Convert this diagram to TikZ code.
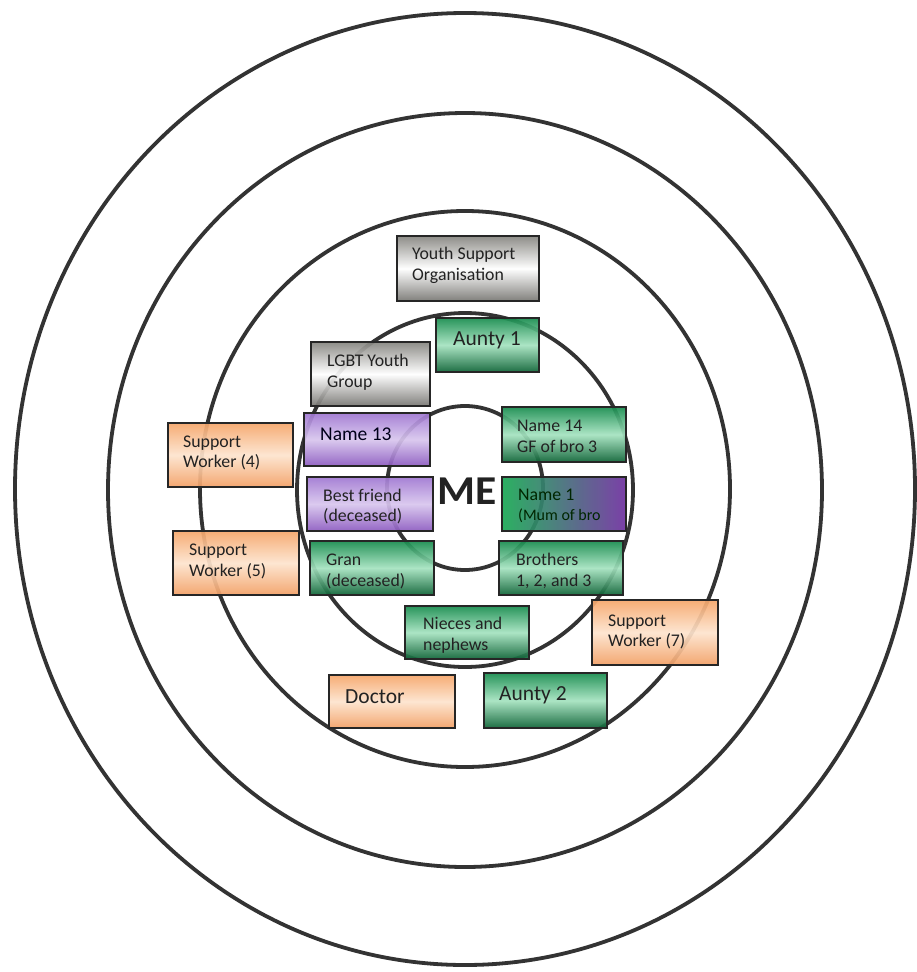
\documentclass[tikz,border=0pt]{standalone}
\usepackage{fontspec}
\setmainfont{Carlito}
\definecolor{ringgray}{HTML}{333333}
\definecolor{ink}{HTML}{222222}
\definecolor{gTop}{HTML}{178C4E}
\definecolor{gMid}{HTML}{A5E3C0}
\definecolor{gBot}{HTML}{0B6234}
\definecolor{pTop}{HTML}{A077D2}
\definecolor{pMid}{HTML}{D8C6EE}
\definecolor{pBot}{HTML}{8C5AC0}
\definecolor{oTop}{HTML}{F6A66A}
\definecolor{oMid}{HTML}{FDE4CE}
\definecolor{oBot}{HTML}{F3A065}
\definecolor{sTop}{HTML}{85847F}
\definecolor{sMid}{HTML}{FFFFFF}
\definecolor{sBot}{HTML}{767571}
\definecolor{mixG}{HTML}{1AAA55}
\definecolor{mixP}{HTML}{7030A0}
\tikzset{
  ring/.style={draw=ringgray, line width=3.8pt},
  card/.style={rectangle, draw=black!85, line width=1.6pt, inner sep=0pt, fill opacity=0.92},
  greencard/.style={card, top color=gTop, bottom color=gBot, middle color=gMid},
  purplecard/.style={card, top color=pTop, bottom color=pBot, middle color=pMid},
  orangecard/.style={card, top color=oTop, bottom color=oBot, middle color=oMid},
  greycard/.style={card, top color=sTop, bottom color=sBot, middle color=sMid},
  mixcard/.style={card, left color=mixG, right color=mixP},
  lbl/.style={anchor=west, inner sep=0pt, align=left, text=ink, font=\fontsize{17.8}{20.8}\selectfont},
  biglbl/.style={lbl, font=\fontsize{21.5}{24}\selectfont},
}
\begin{document}
\begin{tikzpicture}[x=1pt, y=-1pt]
\useasboundingbox (0,0) rectangle (916,972);
\fill[white] (0,0) rectangle (916,972);

% concentric rings
\draw[ring] (465,489) ellipse [x radius=450, y radius=476];
\draw[ring] (465,490) ellipse [x radius=357, y radius=377];
\draw[ring] (465,489) ellipse [x radius=265, y radius=278];
\draw[ring] (465,490) ellipse [x radius=168, y radius=177];
\draw[ring] (465,488) ellipse [x radius=78, y radius=82];

% centre label
\node[font=\bfseries\fontsize{41}{41}\selectfont, text=ink, xscale=1.06, inner sep=0pt] (me) at (467,491) {ME};

% cards
\node[greycard, minimum width=142pt, minimum height=65pt] (yso) at (468,268.5) {};
\node[lbl] (ysoT) at (412,265) {Youth Support\\Organisation};

\node[greencard, minimum width=103pt, minimum height=54pt] (aunty1) at (487.5,345) {};
\node[biglbl] (aunty1T) at (453,340) {Aunty 1};

\node[greycard, minimum width=119pt, minimum height=64pt] (lgbt) at (370.5,374) {};
\node[lbl] (lgbtT) at (327,372) {LGBT Youth\\Group};

\node[purplecard, minimum width=126pt, minimum height=53pt] (name13) at (367,439.5) {};
\node[lbl, font=\fontsize{19.5}{22}\selectfont, text=black!90!blue] (name13T) at (320,434) {Name 13};

\node[purplecard, minimum width=126pt, minimum height=54pt] (bestf) at (370,504) {};
\node[lbl] (bestfT) at (323,506.5) {Best friend\\(deceased)};

\node[greencard, minimum width=124pt, minimum height=54pt] (gran) at (372,568) {};
\node[lbl] (granT) at (326,571.5) {Gran\\(deceased)};

\node[greencard, minimum width=124pt, minimum height=55pt] (name14) at (564,434.5) {};
\node[lbl] (name14T) at (517,436.5) {Name 14\\GF of bro 3};

\node[mixcard, minimum width=124pt, minimum height=54pt] (name1) at (564,504) {};
\node[lbl, text=black!85!green] (name1T) at (518,505.5) {Name 1\\[-1pt]{\fontsize{16}{19}\selectfont (Mum of bro}};

\node[greencard, minimum width=124pt, minimum height=54pt] (bros) at (561,568) {};
\node[lbl] (brosT) at (516,571) {Brothers\\1, 2, and 3};

\node[orangecard, minimum width=125pt, minimum height=64pt] (sw4) at (230.5,455) {};
\node[lbl] (sw4T) at (183,453) {Support\\Worker (4)};

\node[orangecard, minimum width=126pt, minimum height=64pt] (sw5) at (236,563) {};
\node[lbl] (sw5T) at (189,561.5) {Support\\Worker (5)};

\node[greencard, minimum width=124pt, minimum height=53pt] (nieces) at (467,632.5) {};
\begin{scope}
  \clip (nieces.south west) rectangle (nieces.north east);
  \node[lbl] (niecesT) at (423,635.5) {Nieces and\\nephews};
\end{scope}

\node[orangecard, minimum width=126pt, minimum height=65pt] (sw7) at (655,632.5) {};
\node[lbl] (sw7T) at (608,632) {Support\\Worker (7)};

\node[orangecard, minimum width=126pt, minimum height=53pt] (doctor) at (392,701.5) {};
\node[biglbl] (doctorT) at (345,697) {Doctor};

\node[greencard, minimum width=123pt, minimum height=55pt] (aunty2) at (545.5,700.5) {};
\node[biglbl] (aunty2T) at (499,695) {Aunty 2};
\end{tikzpicture}
\end{document}
